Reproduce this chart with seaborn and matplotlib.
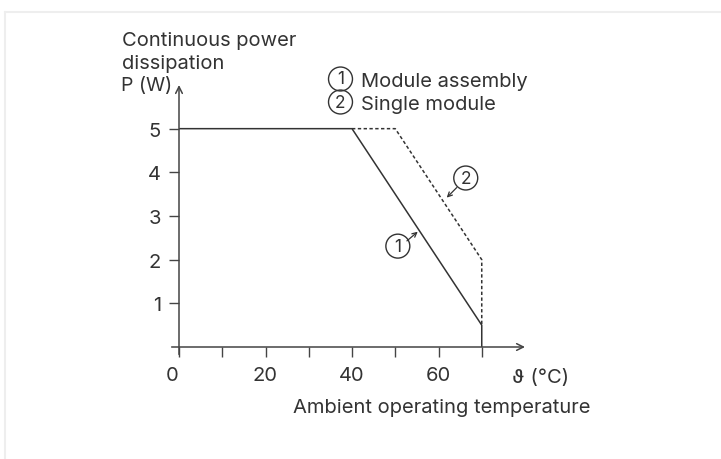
import matplotlib
matplotlib.use("Agg")
import matplotlib.pyplot as plt
import matplotlib.transforms as mtransforms
import seaborn as sns
import pandas as pd

# ---- data ----
assembly_x = [0, 40, 70, 70]
assembly_y = [5, 5, 0.5, 0]
single_x = [40, 50, 70, 70]
single_y = [5, 5, 2, 0.5]
x_ticks = [0, 10, 20, 30, 40, 50, 60, 70]
x_tick_labels = ["0", "", "20", "", "40", "", "60", ""]
y_ticks = [1, 2, 3, 4, 5]
y_tick_labels = ["1", "2", "3", "4", "5"]
legend_marks = ["1", "2"]
legend_labels = ["Module assembly", "Single module"]

sns.set_theme(style="white")
plt.rcParams['font.family'] = ['Inter', 'Noto Sans CJK SC', 'DejaVu Sans']

C = "#333333"
FS = 14.5
FSC = 12.5
circ_box = dict(boxstyle="circle,pad=0.2", fc="none", ec=C, lw=1.0)

df = pd.concat([
    pd.DataFrame({"x": assembly_x, "y": assembly_y, "s": legend_labels[0]}),
    pd.DataFrame({"x": single_x, "y": single_y, "s": legend_labels[1]}),
], ignore_index=True)

fig = plt.figure(figsize=(7.21, 4.60), dpi=100)
ax = fig.add_axes([179/721, 1 - 348/460, (525 - 179)/721, (348 - 86)/460])

sns.lineplot(data=df, x="x", y="y", style="s", sort=False, estimator=None,
             dashes={legend_labels[0]: "", legend_labels[1]: (2.2, 1.6)},
             color=C, linewidth=1.1, legend=False, ax=ax)

ax.set_xlim(0, 80)
ax.set_ylim(0, 6)
for s in ax.spines.values():
    s.set_visible(False)

# axes with arrows
arrow = dict(arrowstyle="->", color="#444444", lw=1.1, shrinkA=0, shrinkB=0,
             mutation_scale=12)
ax.annotate("", xy=(80, 0), xytext=(-1.7, 0), xycoords="data", arrowprops=arrow,
            annotation_clip=False)
ax.annotate("", xy=(0, 6), xytext=(0, -0.17), xycoords="data", arrowprops=arrow,
            annotation_clip=False)

ax.set_xticks(x_ticks)
ax.set_xticklabels(x_tick_labels)
ax.set_yticks(y_ticks)
ax.set_yticklabels(y_tick_labels)
ax.tick_params(axis="both", direction="out", length=7.5, width=1.0, color="#444444",
               labelsize=FS, labelcolor=C, pad=5)
ax.tick_params(axis="x", bottom=True, pad=6)
ax.tick_params(axis="y", left=True, pad=5.5)
ax.set_xlabel("")
ax.set_ylabel("")
# shift "0" label left
off = mtransforms.ScaledTranslation(-7/100, 0, fig.dpi_scale_trans)
lab0 = ax.get_xticklabels()[0]
lab0.set_transform(lab0.get_transform() + off)

# axis texts
fig.text(122/721, 1 - 46/460, "Continuous power", fontsize=FS, color=C, va="baseline")
fig.text(122/721, 1 - 69/460, "dissipation", fontsize=FS, color=C, va="baseline")
fig.text(121/721, 1 - 91/460, "P (W)", fontsize=FS - 0.5, color=C, va="baseline")
fig.text(512/721, 1 - 383/460, "ϑ (°C)", fontsize=FS, color=C, va="baseline")
fig.text(293/721, 1 - 413/460, "Ambient operating temperature", fontsize=FS, color=C,
         va="baseline")

# legend texts
for i, (m, lab) in enumerate(zip(legend_marks, legend_labels)):
    base = 87 + 23 * i
    fig.text(340.5/721, 1 - (base - 7) / 460, m, fontsize=FSC, color=C, va="center",
             ha="center", bbox=circ_box)
    fig.text(361/721, 1 - base / 460, lab, fontsize=FS, color=C, va="baseline")

# callouts
small = dict(arrowstyle="->", color=C, lw=0.9, shrinkA=0, shrinkB=0, mutation_scale=8)
ax.text(66.3, 3.87, legend_marks[1], fontsize=FSC, color=C, ha="center", va="center",
        bbox=circ_box)
ax.annotate("", xy=(61.9, 3.42), xytext=(64.2, 3.65), arrowprops=small)
ax.text(50.6, 2.31, legend_marks[0], fontsize=FSC, color=C, ha="center", va="center",
        bbox=circ_box)
ax.annotate("", xy=(55.2, 2.64), xytext=(52.7, 2.43), arrowprops=small)

# faint frame (top & left)
fig.add_artist(plt.Line2D([5/721, 1], [1 - 13/460, 1 - 13/460], color="#eeeeee", lw=1.5))
fig.add_artist(plt.Line2D([5/721, 5/721], [0, 1 - 13/460], color="#eeeeee", lw=1.5))

fig.savefig("out.png", dpi=100)
